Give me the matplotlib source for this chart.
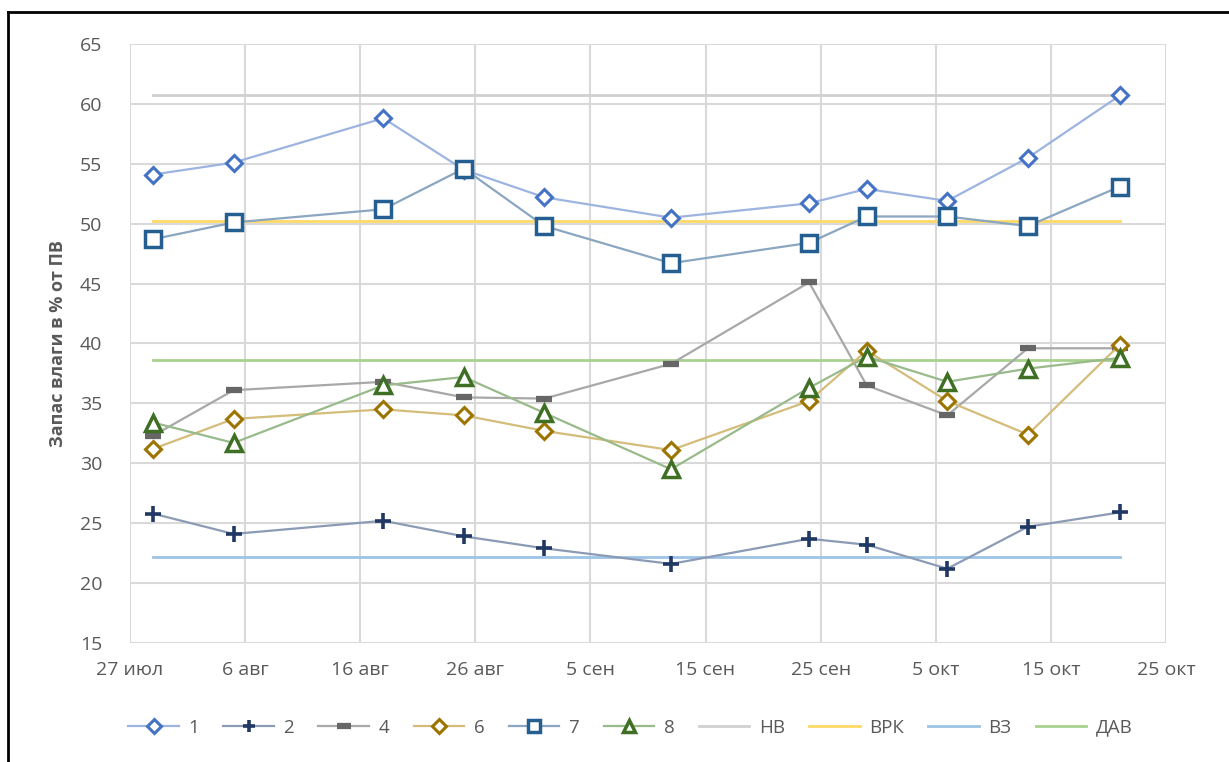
import datetime
import matplotlib
matplotlib.use("Agg")
import matplotlib.pyplot as plt
from matplotlib.lines import Line2D

plt.rcParams['font.family'] = ['Open Sans', 'DejaVu Sans']

# Даты измерений
dates = [
    "29-07-2021", "05-08-2021", "18-08-2021", "25-08-2021", "01-09-2021",
    "12-09-2021", "24-09-2021", "29-09-2021", "06-10-2021", "13-10-2021", "21-10-2021",
]

# Запас влаги по точкам, % от ПВ
s1 = [54.1, 55.1, 58.8, 54.5, 52.2, 50.5, 51.7, 52.9, 51.9, 55.5, 60.7]
s2 = [25.8, 24.1, 25.2, 23.9, 22.9, 21.6, 23.7, 23.2, 21.2, 24.7, 25.9]
s4 = [32.3, 36.1, 36.8, 35.5, 35.4, 38.3, 45.1, 36.5, 34.0, 39.6, 39.6]
s6 = [31.2, 33.7, 34.5, 34.0, 32.7, 31.1, 35.2, 39.4, 35.2, 32.4, 39.9]
s7 = [48.7, 50.1, 51.2, 54.6, 49.8, 46.7, 48.4, 50.6, 50.6, 49.8, 53.1]
s8 = [33.4, 31.7, 36.5, 37.2, 34.2, 29.5, 36.3, 38.9, 36.8, 37.9, 38.8]

# Константы почвы
nv = 60.7
vrk = 50.2
vz = 22.2
dav = 38.6

x_start = "27-07-2021"
x_end = "25-10-2021"
x_ticklabels = ["27 июл", "6 авг", "16 авг", "26 авг", "5 сен",
                "15 сен", "25 сен", "5 окт", "15 окт", "25 окт"]


def to_date(s):
    return datetime.datetime.strptime(s, "%d-%m-%Y")


x = [to_date(d) for d in dates]

fig = plt.figure(figsize=(12.29, 7.62), dpi=100)
ax = fig.add_axes([0.1058, 0.1562, 0.9487 - 0.1058, 0.9423 - 0.1562])

# Рамка рисунка (сверху и слева)
fig.add_artist(Line2D([0.0066, 0.0066], [0.0, 0.9843], transform=fig.transFigure,
                      color='black', lw=2))
fig.add_artist(Line2D([0.0066, 1.0], [0.9843, 0.9843], transform=fig.transFigure,
                      color='black', lw=2))

lw = 1.6
series = [
    (s1, '#9DB4E0', 'D', '#4472C4', 8.5, 2.2),
    (s2, '#8C9BB5', '+', '#203864', 11, 2.6),
    (s4, '#A8A8A8', '_', '#666666', 12, 4.5),
    (s6, '#D4BC7A', 'D', '#9C7400', 8.5, 2.2),
    (s7, '#8BA6C0', 's', '#255E91', 11, 2.5),
    (s8, '#99BA8A', '^', '#3F6F25', 11, 2.5),
]

handles = []
for vals, lc, mk, mc, ms, mew in series:
    ln, = ax.plot(x, vals, color=lc, lw=lw, marker=mk, markersize=ms,
                  markerfacecolor='white', markeredgecolor=mc,
                  markeredgewidth=mew, zorder=4)
    handles.append(ln)

for val, c in [(nv, '#D0D0D0'), (vrk, '#FFD966'), (vz, '#9DC3E6'), (dav, '#A9D18E')]:
    ln, = ax.plot(x, [val] * len(x), color=c, lw=2, zorder=3)
    handles.append(ln)

labels = ['1', '2', '4', '6', '7', '8', 'НВ', 'ВРК', 'ВЗ', 'ДАВ']

ax.set_xlim(to_date(x_start), to_date(x_end))
ax.set_ylim(15, 65)
ticks = [to_date(x_start) + datetime.timedelta(days=10 * i) for i in range(len(x_ticklabels))]
ax.set_xticks(ticks)
ax.set_xticklabels(x_ticklabels)
ax.set_yticks(range(15, 66, 5))

ax.grid(True, color='#D9D9D9', lw=1.5, zorder=0)
for sp in ax.spines.values():
    sp.set_visible(False)
ax.tick_params(length=0, labelsize=14, labelcolor='#595959')
ax.tick_params(axis='x', pad=13)
ax.tick_params(axis='y', pad=20)

ax.set_ylabel('Запас влаги в % от ПВ', fontsize=13, fontweight='bold',
              color='#595959', labelpad=9)

fig.legend(handles, labels, loc='center', bbox_to_anchor=(0.513, 0.045),
           ncol=10, frameon=False, fontsize=13.5, handlelength=2.7,
           columnspacing=1.3, handletextpad=0.5, labelcolor='#595959',
           markerscale=0.8)

fig.savefig('out.png', dpi=100)
